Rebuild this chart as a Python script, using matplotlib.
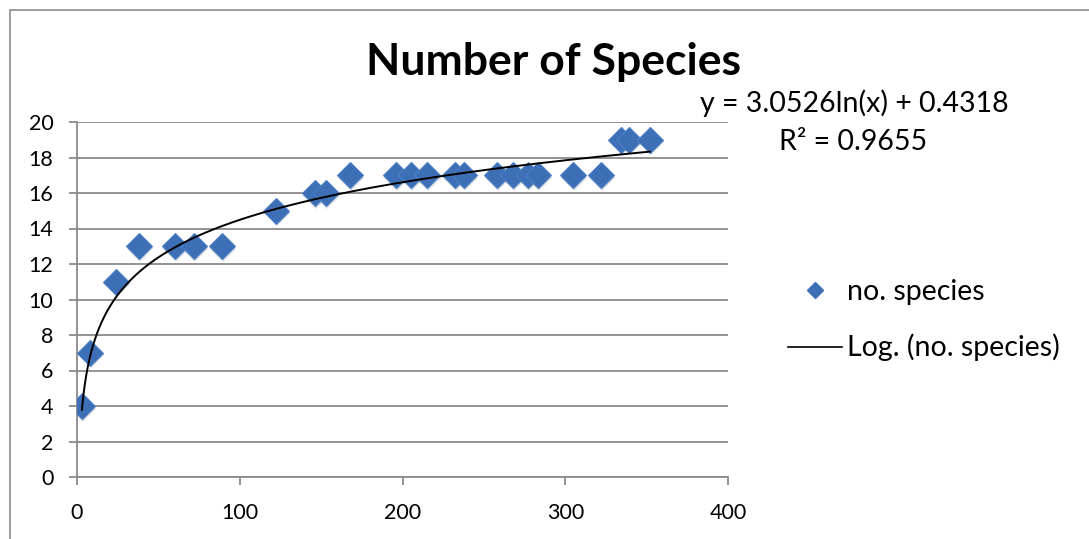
import matplotlib

matplotlib.use("Agg")
import matplotlib.pyplot as plt
import numpy as np
from matplotlib.patches import Rectangle
from matplotlib.lines import Line2D

# values
sample_x = [3, 8, 24, 38, 60, 72, 89, 122, 146, 153, 168, 196, 205, 215,
            232, 238, 258, 268, 277, 283, 305, 322, 334, 339, 352]
no_species = [4, 7, 11, 13, 13, 13, 13, 15, 16, 16, 17, 17, 17, 17,
              17, 17, 17, 17, 17, 17, 17, 17, 19, 19, 19]

# logarithmic trendline as reported on the chart
TREND_A = 3.0526
TREND_B = 0.4318
TREND_R2 = 0.9655

plt.rcParams["font.family"] = ["Lato", "DejaVu Sans"]

BLUE = "#3D6FB6"
GRID = "#8a8a8a"

fig = plt.figure(figsize=(10.89, 5.39), dpi=100)
ax = fig.add_axes([77 / 1089, 1 - 477 / 539, 651 / 1089, 355 / 539])

# outer chart frame (runs off the right/bottom edges like the screenshot)
fig.patches.append(Rectangle((10 / 1089, -0.05), 1.2, 1 - 10 / 539 + 0.05,
                             transform=fig.transFigure, fill=False,
                             edgecolor="#8c8c8c", linewidth=1.2))

# trendline
tx = np.linspace(min(sample_x), max(sample_x), 400)
ty = TREND_A * np.log(tx) + TREND_B

# marker shadow, then markers
ax.plot(np.array(sample_x) + 0.6, np.array(no_species) - 0.15, linestyle="none",
        marker="D", markersize=13, color="#000000", alpha=0.12,
        markeredgewidth=0, zorder=2)
ax.plot(sample_x, no_species, linestyle="none", marker="D", markersize=13,
        color=BLUE, markeredgecolor="#4a7fc4", markeredgewidth=0.8, zorder=3)
ax.plot(tx, ty, color="black", linewidth=1.4, zorder=4)

ax.set_xlim(0, 400)
ax.set_ylim(0, 20)
ax.set_xticks([0, 100, 200, 300, 400])
ax.set_yticks(range(0, 21, 2))
ax.yaxis.grid(True, color=GRID, linewidth=1.3)
ax.set_axisbelow(True)
for side in ("top", "right"):
    ax.spines[side].set_visible(False)
for side in ("left", "bottom"):
    ax.spines[side].set_color(GRID)
    ax.spines[side].set_linewidth(1.3)
ax.tick_params(axis="both", colors=GRID, length=6, width=1.3,
               labelcolor="black", labelsize=15.5)
ax.tick_params(axis="x", pad=13)
ax.tick_params(axis="y", pad=11)

fig.text(553 / 1089, 1 - 62 / 539, "Number of Species", ha="center",
         va="center", fontsize=32, fontweight="bold")
fig.text(854 / 1089, 1 - 103 / 539, f"y = {TREND_A}ln(x) + {TREND_B}",
         ha="center", va="center", fontsize=20.5)
fig.text(853 / 1089, 1 - 142 / 539, f"R² = {TREND_R2}", ha="center",
         va="center", fontsize=20.5)

handles = [
    Line2D([], [], linestyle="none", marker="D", markersize=8.5, color=BLUE),
    Line2D([], [], color="black", linewidth=1.2),
]
fig.legend(handles, ["no. species", "Log. (no. species)"],
           loc="center left", bbox_to_anchor=(762 / 1089, 1 - 320 / 539),
           frameon=False, fontsize=20.5, handlelength=1.9,
           handletextpad=0.2, labelspacing=1.03)

fig.savefig("out.png", dpi=100)
